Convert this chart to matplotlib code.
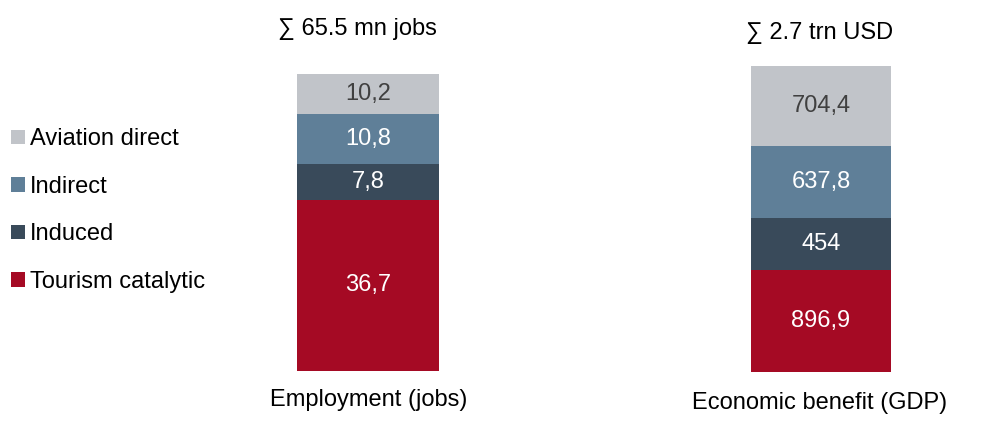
import matplotlib.pyplot as plt
from matplotlib.patches import Patch

plt.rcParams['font.family'] = ['Liberation Sans', 'DejaVu Sans']

# stack order from bottom to top
segments = ["Tourism catalytic", "Induced", "Indirect", "Aviation direct"]
employment = [36.7, 7.8, 10.8, 10.2]
gdp = [896.9, 454.0, 637.8, 704.4]
employment_labels = ["36,7", "7,8", "10,8", "10,2"]
gdp_labels = ["896,9", "454", "637,8", "704,4"]
totals = ["∑ 65.5 mn jobs", "∑ 2.7 trn USD"]
categories = ["Employment (jobs)", "Economic benefit (GDP)"]

colors = ["#A50A24", "#394A5A", "#5F7F98", "#C1C4C9"]
text_colors = ["white", "white", "white", "#404040"]
FS = 17

W, H = 994, 423
fig = plt.figure(figsize=(W / 100, H / 100), dpi=100)


def px_axes(x0, y_top, x1, y_bot):
    return fig.add_axes([x0 / W, 1 - y_bot / H, (x1 - x0) / W, (y_bot - y_top) / H])


def stacked(ax, values, labels, ymax=None):
    # the original employment bar is cut a little short at the top
    ymax = sum(values) if ymax is None else ymax
    bottom = 0
    for v, lab, c, tc in zip(values, labels, colors, text_colors):
        ax.bar(0, v, width=1, bottom=bottom, color=c, linewidth=0)
        mid = (bottom + min(bottom + v, ymax)) / 2
        ax.text(0, mid, lab, ha="center", va="center", color=tc, fontsize=FS)
        bottom += v
    ax.set_xlim(-0.5, 0.5)
    ax.set_ylim(0, ymax)
    ax.axis("off")


ax1 = px_axes(297, 74, 439, 370.7)
stacked(ax1, employment, employment_labels, ymax=63.9)
ax2 = px_axes(751, 66, 891, 371.7)
stacked(ax2, gdp, gdp_labels)

fig.text(357 / W, 1 - 29 / H, totals[0], ha="center", va="center", fontsize=FS)
fig.text(820 / W, 1 - 33 / H, totals[1], ha="center", va="center", fontsize=FS)
fig.text(369 / W, 1 - 400 / H, categories[0], ha="center", va="center", fontsize=FS)
fig.text(820 / W, 1 - 403 / H, categories[1], ha="center", va="center", fontsize=FS)

handles = [Patch(facecolor=c, edgecolor="none", label=s)
           for s, c in zip(segments[::-1], colors[::-1])]
fig.legend(handles=handles, loc="upper left",
           bbox_to_anchor=(2 / W, 1 - 119 / H), frameon=False, fontsize=FS,
           handlelength=0.58, handleheight=0.58, handletextpad=0.2,
           labelspacing=1.08, borderaxespad=0)

fig.savefig("out.png", dpi=100)
